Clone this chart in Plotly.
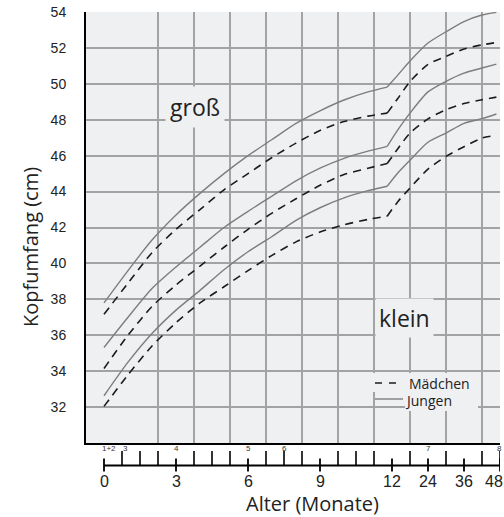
import plotly.graph_objects as go

# ---------------- data ----------------
AGE_MONTHS = [0, 1, 2, 3, 4, 5, 6, 7, 8, 9, 10, 11, 11.8, 14, 18, 24, 30, 36, 42, 46.8]
KINK_MONTH = 11.8

BOYS_HIGH = [37.8, 39.6, 41.3, 42.7, 43.9, 45.0, 46.0, 46.9, 47.8, 48.5, 49.1, 49.55, 49.82,
             50.5, 51.27, 52.27, 52.9, 53.47, 53.83, 53.98]
GIRLS_HIGH = [37.17, 38.9, 40.6, 41.9, 43.0, 44.1, 45.0, 45.9, 46.7, 47.4, 47.9, 48.2, 48.37,
              49.2, 50.13, 51.08, 51.53, 51.94, 52.17, 52.3]
BOYS_MID = [35.32, 37.0, 38.6, 39.8, 40.9, 42.0, 42.9, 43.75, 44.6, 45.3, 45.85, 46.25, 46.52,
            47.45, 48.37, 49.55, 50.14, 50.6, 50.88, 51.1]
GIRLS_MID = [34.15, 36.0, 37.6, 38.8, 39.85, 40.9, 41.9, 42.8, 43.6, 44.35, 44.95, 45.3, 45.56,
             46.4, 47.26, 48.05, 48.56, 48.9, 49.11, 49.26]
BOYS_LOW = [32.63, 34.5, 36.1, 37.4, 38.5, 39.65, 40.65, 41.5, 42.4, 43.1, 43.65, 44.05, 44.3,
            45.05, 45.75, 46.75, 47.26, 47.8, 48.06, 48.32]
GIRLS_LOW = [32.04, 33.8, 35.4, 36.7, 37.8, 38.7, 39.6, 40.45, 41.2, 41.75, 42.15, 42.45, 42.63,
             43.45, 44.2, 45.25, 45.96, 46.5, 46.98, 47.13]

AGE_TICKS = [0, 3, 6, 9, 12, 24, 36, 48]
AGE_TICK_LABELS = ["0", "3", "6", "9", "12", "24", "36", "48"]
U_LABELS = ["1+2", "3", "4", "5", "6", "7", "8"]
U_POSITIONS = [0.21, 0.875, 3, 6, 7.5, 24, 48]
Y_TICKS = list(range(32, 55, 2))
LEGEND_NAMES = ["Mädchen", "Jungen"]

# ---------------- styling ----------------
PLOT_BG = "#eff0f2"
GRID = "#a3a3a3"
SOLID_COLOR = "#7d7d7d"
DASH_COLOR = "#1c1c1c"
NUM_FONT = "Liberation Sans, Arial, sans-serif"
TXT_FONT = "Open Sans, Noto Sans, sans-serif"
L, R, T, B = 86, 4, 12, 74
W, H = 504, 517
PW, PH = W - L - R, H - T - B


def to_axis(m):
    """Months -> axis units: first year linear, then 12 months per 1.5 units."""
    return m if m <= 12 else 12 + (m - 12) / 8.0


def px(x_pixel):
    return (x_pixel - L) / float(PW)


def py(y_pixel):
    return (H - B - y_pixel) / float(PH)


X_MIN, X_MAX = -0.75, to_axis(48)
GRID_X = [2.25 + 1.5 * k for k in range(10)]

fig = go.Figure()

curves = [
    (GIRLS_HIGH, True), (GIRLS_MID, True), (GIRLS_LOW, True),
    (BOYS_HIGH, False), (BOYS_MID, False), (BOYS_LOW, False),
]
xs = [to_axis(a) for a in AGE_MONTHS]
k = AGE_MONTHS.index(KINK_MONTH)
for vals, dashed in curves:
    for seg_x, seg_y in ((xs[:k + 1], vals[:k + 1]), (xs[k:], vals[k:])):
        fig.add_trace(go.Scatter(
            x=seg_x, y=seg_y, mode="lines", showlegend=False,
            line=dict(color=DASH_COLOR if dashed else SOLID_COLOR,
                      width=1.6 if dashed else 1.4,
                      dash="8px,6px" if dashed else "solid", shape="spline",
                      smoothing=0.7),
            hoverinfo="skip"))

shapes = []
annotations = []

# ---------------- lower age axis (drawn below the plot) ----------------
axis_y = py(465.5)
shapes.append(dict(type="line", xref="x", yref="paper", x0=to_axis(0), x1=to_axis(48),
                   y0=axis_y, y1=axis_y, line=dict(color="black", width=1.8)))
major_u = [to_axis(m) for m in AGE_TICKS]
minor_u = [0.75 * i for i in range(1, 23)]
minor_u = [u for u in minor_u if all(abs(u - mu) > 1e-6 for mu in major_u[:-1])]
for u in minor_u:
    shapes.append(dict(type="line", xref="x", yref="paper", x0=u, x1=u,
                       y0=py(451), y1=axis_y, line=dict(color="black", width=1.6)))
for u in major_u:
    shapes.append(dict(type="line", xref="x", yref="paper", x0=u, x1=u,
                       y0=py(458.5), y1=py(471.5), line=dict(color="black", width=1.8)))

for m, lab in zip(AGE_TICKS, AGE_TICK_LABELS):
    annotations.append(dict(x=to_axis(m), y=py(482), xref="x", yref="paper", text=lab,
                            showarrow=False, font=dict(family=NUM_FONT, size=16, color="#222"),
                            xanchor="center", yanchor="middle",
                            xshift=-6 if m == AGE_TICKS[-1] else 0))
for m, lab in zip(U_POSITIONS, U_LABELS):
    annotations.append(dict(x=to_axis(m), y=py(448.5), xref="x", yref="paper", text=lab,
                            showarrow=False, font=dict(family=NUM_FONT, size=8, color="#333"),
                            xanchor="center", yanchor="middle",
                            xshift=-1 if m == U_POSITIONS[-1] else 0))
annotations.append(dict(x=px(312), y=py(503), xref="paper", yref="paper",
                        text="Alter (Monate)", showarrow=False,
                        font=dict(family=TXT_FONT, size=20, color="#222"),
                        xanchor="center", yanchor="middle"))
annotations.append(dict(x=px(31), y=py(247), xref="paper", yref="paper",
                        text="Kopfumfang (cm)", showarrow=False, textangle=-90,
                        font=dict(family=TXT_FONT, size=20, color="#222"),
                        xanchor="center", yanchor="middle"))
# region labels
annotations.append(dict(x=3.79, y=48.72, xref="x", yref="y", text="groß", showarrow=False,
                        font=dict(family=TXT_FONT, size=23, color="#222"),
                        bgcolor=PLOT_BG, borderpad=4))
annotations.append(dict(x=12.54, y=36.94, xref="x", yref="y", text="klein", showarrow=False,
                        font=dict(family=TXT_FONT, size=23, color="#222"),
                        bgcolor=PLOT_BG, borderpad=3))

# ---------------- legend (manual) ----------------
shapes.append(dict(type="rect", xref="paper", yref="paper", x0=px(373), x1=px(478),
                   y0=py(392), y1=py(373), fillcolor=PLOT_BG, line=dict(width=0),
                   layer="above"))
shapes.append(dict(type="rect", xref="paper", yref="paper", x0=px(405), x1=px(478),
                   y0=py(411), y1=py(391), fillcolor=PLOT_BG, line=dict(width=0),
                   layer="above"))
shapes.append(dict(type="line", xref="paper", yref="paper", x0=px(375), x1=px(397),
                   y0=py(383), y1=py(383), layer="above",
                   line=dict(color=DASH_COLOR, width=1.6, dash="7px,7px")))
shapes.append(dict(type="line", xref="paper", yref="paper", x0=px(375), x1=px(403),
                   y0=py(399), y1=py(399), layer="above",
                   line=dict(color=SOLID_COLOR, width=1.4)))
annotations.append(dict(x=px(407), y=py(383), xref="paper", yref="paper",
                        text=LEGEND_NAMES[0], showarrow=False, xanchor="left",
                        yanchor="middle", font=dict(family=TXT_FONT, size=14, color="#222")))
annotations.append(dict(x=px(403), y=py(400), xref="paper", yref="paper",
                        text=LEGEND_NAMES[1], showarrow=False, xanchor="left",
                        yanchor="middle", font=dict(family=TXT_FONT, size=14, color="#222")))

fig.update_layout(
    width=W, height=H,
    margin=dict(l=L, r=R, t=T, b=B, autoexpand=False),
    paper_bgcolor="white", plot_bgcolor=PLOT_BG,
    shapes=shapes, annotations=annotations,
    showlegend=False,
    xaxis=dict(range=[X_MIN, X_MAX], tickvals=GRID_X, showticklabels=False, ticks="",
               showgrid=True, gridcolor=GRID, gridwidth=1.5, zeroline=False,
               showline=True, linecolor="black", linewidth=2, automargin=False),
    yaxis=dict(range=[30, 54], tickvals=Y_TICKS, ticktext=[str(v) for v in Y_TICKS],
               showgrid=True, gridcolor=GRID, gridwidth=1.5, zeroline=False,
               showline=True, linecolor="black", linewidth=2, ticks="",
               ticklabelstandoff=15, automargin=False,
               tickfont=dict(family=NUM_FONT, size=14, color="#222")),
)

fig.write_html("out.html", config={"displayModeBar": False},
               post_script="document.body.style.margin='0';document.body.style.padding='0';")
